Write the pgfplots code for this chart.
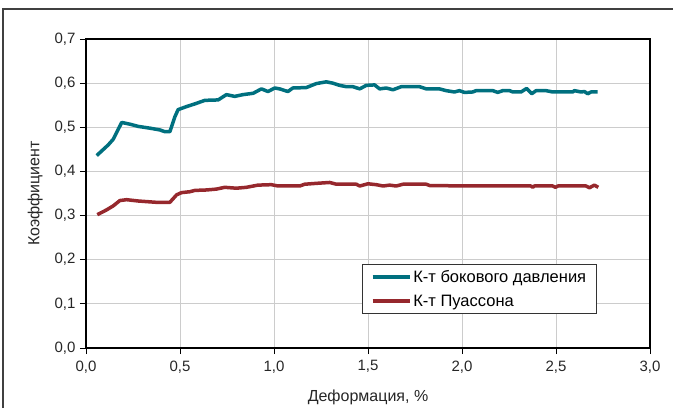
\documentclass[border=0pt]{standalone}
\usepackage{fontspec}
\setmainfont{Liberation Sans}
\usepackage{pgfplots}
\pgfplotsset{compat=1.18}
\definecolor{teal1}{RGB}{0,112,127}
\definecolor{red1}{RGB}{150,40,45}
\begin{document}
\begin{tikzpicture}[x=1pt,y=1pt]
\useasboundingbox (0,0) rectangle (673,408);
\draw[line width=1.2pt, black!75] (3,0) -- (3,399) -- (673,399);
\begin{axis}[
  at={(86pt,60pt)}, anchor=south west,
  width=564pt, height=309pt, scale only axis,
  xmin=0, xmax=3, ymin=0, ymax=0.7,
  xtick={0,0.5,...,3.0}, ytick={0,0.1,...,0.7},
  xtick pos=bottom, ytick pos=left, tick align=outside,
  major tick length=6pt,
  tick style={black, line width=0.9pt},
  axis line style={black, line width=1.1pt},
  grid=major, grid style={gray!40, line width=0.9pt},
  /pgf/number format/.cd, use comma, fixed, fixed zerofill, precision=1, assume math mode=true,
  /pgfplots/.cd,
  tick label style={font=\fontsize{15}{17}\selectfont, text=black!85},
  label style={font=\fontsize{16}{18}\selectfont, text=black!85},
  xticklabel style={yshift=-3pt},
  yticklabel style={xshift=-1pt},
  xlabel={Деформация, \%}, ylabel={Коэффициент},
  xlabel style={yshift=-10pt},
  ylabel style={yshift=5pt},
  legend style={at={(0.49,0.11)}, anchor=south west, draw=black!80, line width=0.9pt,
    font=\fontsize{16.5}{18}\selectfont, inner xsep=8pt, inner ysep=4pt, row sep=7pt},
  legend cell align=left,
  legend image code/.code={\draw[#1, line width=3.5pt] (0cm,0cm) -- (1.3cm,0cm);},
]
\addplot[teal1, line width=3.5pt, line join=round] coordinates {
(0.057,0.436)(0.118,0.460)(0.145,0.473)(0.19,0.511)(0.234,0.507)(0.278,0.502)
(0.34,0.498)(0.393,0.494)(0.42,0.49)(0.446,0.49)(0.473,0.524)(0.49,0.54)
(0.535,0.547)(0.579,0.553)(0.632,0.561)(0.703,0.562)(0.747,0.574)(0.791,0.570)
(0.835,0.574)(0.889,0.577)(0.933,0.587)(0.968,0.581)(1.004,0.589)(1.03,0.587)
(1.074,0.581)(1.10,0.589)(1.172,0.590)(1.225,0.599)(1.278,0.603)(1.313,0.600)
(1.349,0.595)(1.385,0.592)(1.42,0.592)(1.456,0.587)(1.491,0.595)(1.535,0.596)
(1.562,0.587)(1.597,0.589)(1.633,0.585)(1.677,0.592)(1.774,0.592)(1.81,0.587)
(1.88,0.587)(1.916,0.583)(1.96,0.580)(1.986,0.583)(2.013,0.579)(2.057,0.580)
(2.075,0.583)(2.164,0.583)(2.19,0.579)(2.217,0.583)(2.253,0.583)(2.27,0.580)
(2.314,0.580)(2.344,0.588)(2.371,0.576)(2.394,0.583)(2.447,0.583)(2.483,0.580)
(2.589,0.580)(2.598,0.583)(2.633,0.580)(2.651,0.581)(2.669,0.576)(2.686,0.580)
(2.722,0.580)
};
\addlegendentry{К-т бокового давления}
\addplot[red1, line width=3.5pt, line join=round] coordinates {
(0.06,0.302)(0.11,0.313)(0.145,0.322)(0.18,0.334)(0.216,0.336)(0.278,0.333)
(0.375,0.330)(0.446,0.330)(0.482,0.347)(0.508,0.352)(0.552,0.354)(0.579,0.357)
(0.641,0.358)(0.694,0.360)(0.738,0.364)(0.80,0.362)(0.853,0.364)(0.915,0.369)
(0.986,0.370)(1.021,0.367)(1.137,0.367)(1.163,0.371)(1.225,0.373)(1.296,0.375)
(1.332,0.371)(1.438,0.371)(1.456,0.367)(1.50,0.372)(1.544,0.370)(1.58,0.367)
(1.615,0.369)(1.65,0.367)(1.686,0.371)(1.81,0.371)(1.828,0.368)(2.057,0.367)
(2.367,0.367)(2.376,0.364)(2.385,0.367)(2.483,0.367)(2.497,0.364)(2.51,0.367)
(2.66,0.367)(2.678,0.363)(2.704,0.369)(2.725,0.364)
};
\addlegendentry{К-т Пуассона}
\end{axis}
\end{tikzpicture}
\end{document}
